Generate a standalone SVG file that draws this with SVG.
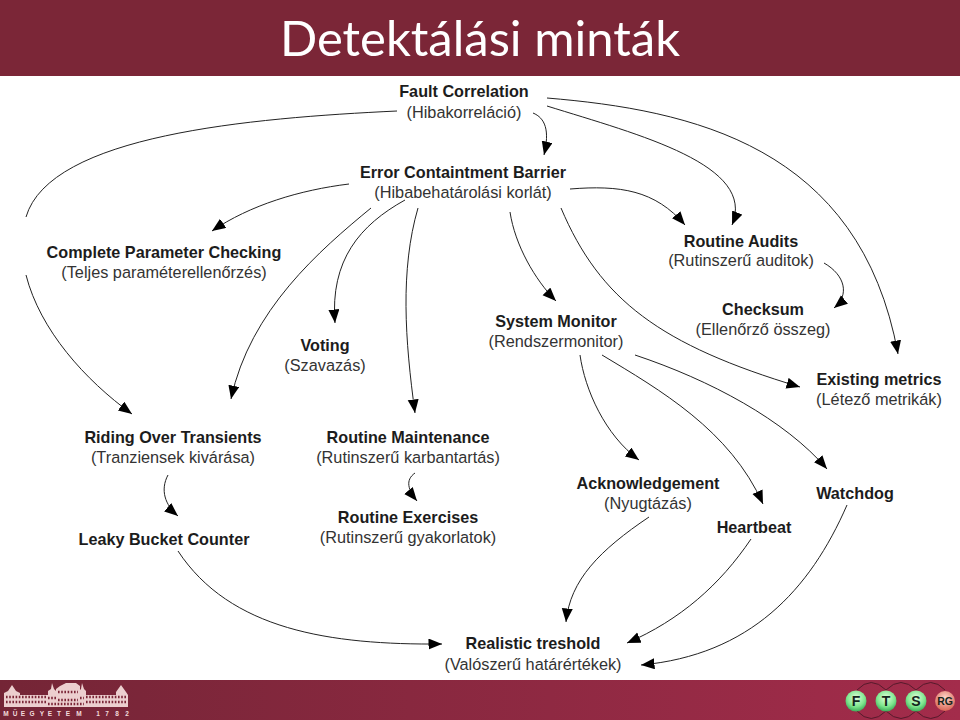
<svg xmlns="http://www.w3.org/2000/svg" width="960" height="720" viewBox="0 0 960 720">
<style>
.b{font:bold 16.2px "Liberation Sans",Arial,sans-serif;fill:#1c1c1c;text-anchor:middle}
.r{font:16.3px "Liberation Sans",Arial,sans-serif;fill:#333;text-anchor:middle}
.c path{fill:none;stroke:#222;stroke-width:1;marker-end:url(#a)}
.c path.n{marker-end:none}
.g text{font:bold 14px "Liberation Sans",sans-serif;text-anchor:middle;fill:#14261c}
.w{stroke:#7b2637;stroke-width:2.4;stroke-dasharray:1.6 1.6;fill:none}
</style>
<defs>
<marker id="a" markerUnits="userSpaceOnUse" markerWidth="15" markerHeight="12" refX="13.5" refY="5.5" orient="auto"><path d="M0 0L13.5 5.5L0 11z" fill="#000"/></marker>
<linearGradient id="f" x1="0" x2="1" y1="0" y2="0"><stop offset="0" stop-color="#742536"/><stop offset="1" stop-color="#a32c4b"/></linearGradient>
<radialGradient id="gr" cx=".5" cy=".35" r=".7"><stop offset="0" stop-color="#e4ffdd"/><stop offset=".6" stop-color="#7ce58c"/><stop offset="1" stop-color="#2f9f4e"/></radialGradient>
<radialGradient id="rd" cx=".5" cy=".35" r=".7"><stop offset="0" stop-color="#ffd9cc"/><stop offset="1" stop-color="#d65c4c"/></radialGradient>
</defs>
<rect width="960" height="720" fill="#fff"/>
<rect width="960" height="76" fill="#7b2637"/>
<text x="480" y="56" text-anchor="middle" style="font:49px Lato,'Open Sans',sans-serif;fill:#fff">Detektálási minták</text>
<rect y="680" width="960" height="40" fill="url(#f)"/>
<g id="logo">
<path fill="#eccfcf" d="M4 707V693L8 691L12 685L16 691L20 693V695H48V691L51 689L52 683L54 689L56 691V689L60 686L66 683L76 683L80 686V690L81 689L82 683L84 689L86 691V695H116V692L121 685L126 692L128 695V707z"/>
<path class="w" d="M6 697H46M86 697H126M6 702H46M86 702H126M58 692H78M58 700H78M48 698H56M80 698H84M48 704H84"/>
<text y="716" x="6 15 23 32 42 50 59 68 79 88 98 107 117 127" text-anchor="middle" fill="#f2dcdc" style="font:bold 6.5px 'Liberation Sans',sans-serif">MÜEGYETEM 1782</text>
</g>
<g id="fts" class="g">
<path d="M857 690Q871 675 886 690M886 690Q901 675 916 690M916 690Q931 675 945 690M857 711Q871 726 886 711M886 711Q901 726 916 711M916 711Q931 726 945 711" fill="none" stroke="#561a2b" stroke-width="1"/>
<circle cx="856" cy="701" r="10.5" fill="url(#gr)"/><text x="856" y="706">F</text>
<circle cx="886" cy="701" r="10.5" fill="url(#gr)"/><text x="886" y="706">T</text>
<circle cx="916" cy="701" r="10.5" fill="url(#gr)"/><text x="916" y="706">S</text>
<circle cx="945" cy="701" r="10" fill="url(#rd)"/><text x="945" y="705" style="font-size:10.5px">RG</text>
</g>
<g class="c" id="connectors">
<path d="M533 113C545 118 550 130 544 155"/>
<path d="M547 98C690 110 860 145 898 354"/>
<path d="M547 106C640 135 757 165 732 225"/>
<path class="n" d="M397 111C250 118 50 135 26 217"/>
<path d="M26 275C40 330 85 380 132 414"/>
<path d="M349 184C300 190 250 205 212 231"/>
<path d="M371 208C320 250 250 310 231 399"/>
<path d="M405 200C360 225 330 260 335 323"/>
<path d="M418 208C400 270 405 340 415 413"/>
<path d="M510 212C515 245 535 280 556 301"/>
<path d="M570 189C620 185 655 190 685 225"/>
<path d="M561 208C600 300 660 345 800 387"/>
<path d="M824 263C845 275 850 295 834 308"/>
<path d="M580 355C585 390 605 435 639 460"/>
<path d="M602 355C660 390 730 430 763 504"/>
<path d="M635 355C710 380 785 420 827 469"/>
<path d="M649 517C600 550 570 580 566 622"/>
<path d="M751 539C720 585 680 620 627 643"/>
<path d="M847 505C810 590 750 655 641 665"/>
<path d="M178 551C230 630 330 645 442 644"/>
<path d="M168 475C160 490 165 505 178 516"/>
<path d="M415 473C405 480 408 490 417 501"/>
</g>
<g id="n1"><text class="b" x="464" y="96.500">Fault Correlation</text><text class="r" x="464" y="117.500">(Hibakorreláció)</text></g>
<g id="n2"><text class="b" x="463" y="177.500">Error Containtment Barrier</text><text class="r" x="463" y="197.500">(Hibabehatárolási korlát)</text></g>
<g id="n3"><text class="b" x="164" y="257.500">Complete Parameter Checking</text><text class="r" x="164" y="277.500">(Teljes paraméterellenőrzés)</text></g>
<g id="n4"><text class="b" x="741" y="246.500">Routine Audits</text><text class="r" x="741" y="265.500">(Rutinszerű auditok)</text></g>
<g id="n5"><text class="b" x="763" y="314.500">Checksum</text><text class="r" x="763" y="334.500">(Ellenőrző összeg)</text></g>
<g id="n6"><text class="b" x="556" y="326.500">System Monitor</text><text class="r" x="556" y="346.500">(Rendszermonitor)</text></g>
<g id="n7"><text class="b" x="325" y="350.500">Voting</text><text class="r" x="325" y="370.500">(Szavazás)</text></g>
<g id="n8"><text class="b" x="879" y="384.500">Existing metrics</text><text class="r" x="879" y="404.500">(Létező metrikák)</text></g>
<g id="n9"><text class="b" x="173" y="442.500">Riding Over Transients</text><text class="r" x="173" y="462.500">(Tranziensek kivárása)</text></g>
<g id="n10"><text class="b" x="408" y="442.500">Routine Maintenance</text><text class="r" x="408" y="462.500">(Rutinszerű karbantartás)</text></g>
<g id="n11"><text class="b" x="648" y="488.500">Acknowledgement</text><text class="r" x="648" y="508.500">(Nyugtázás)</text></g>
<g id="n12"><text class="b" x="855" y="498.500">Watchdog</text></g>
<g id="n13"><text class="b" x="408" y="522.500">Routine Exercises</text><text class="r" x="408" y="542.500">(Rutinszerű gyakorlatok)</text></g>
<g id="n14"><text class="b" x="754" y="532.500">Heartbeat</text></g>
<g id="n15"><text class="b" x="164" y="544.500">Leaky Bucket Counter</text></g>
<g id="n16"><text class="b" x="533" y="648.500">Realistic treshold</text><text class="r" x="533" y="669.500">(Valószerű határértékek)</text></g>
</svg>
